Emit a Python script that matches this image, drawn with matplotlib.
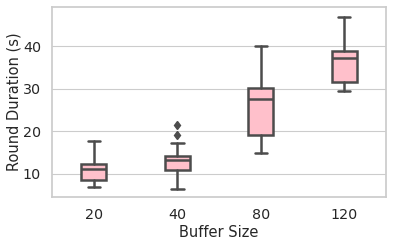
import matplotlib
matplotlib.use('Agg')
import matplotlib.pyplot as plt
import seaborn as sns

# Box statistics
buffer_sizes = ['20', '40', '80', '120']
whisker_low = [6.8, 6.5, 14.9, 29.4]
q1 = [8.6, 10.9, 19.1, 31.6]
median = [11.2, 13.3, 27.6, 37.2]
q3 = [12.4, 14.3, 30.1, 39.0]
whisker_high = [17.7, 17.3, 40.2, 47.0]
outliers = [[], [19.1, 21.4], [], []]

sns.set_theme(style='whitegrid')
plt.rcParams['font.family'] = ['DejaVu Sans']

fig, ax = plt.subplots(figsize=(3.93, 2.46), dpi=100)

stats = []
for i, lab in enumerate(buffer_sizes):
    stats.append(dict(label=lab, whislo=whisker_low[i], q1=q1[i], med=median[i],
                      q3=q3[i], whishi=whisker_high[i], fliers=outliers[i]))

line_col = '#4c4c4c'
lw = 1.8
ax.bxp(stats, positions=range(len(buffer_sizes)), widths=0.3,
       patch_artist=True, showfliers=True,
       boxprops=dict(facecolor='pink', edgecolor=line_col, linewidth=lw),
       medianprops=dict(color=line_col, linewidth=lw),
       whiskerprops=dict(color=line_col, linewidth=lw),
       capprops=dict(color=line_col, linewidth=lw),
       capwidths=0.15,
       flierprops=dict(marker='d', markerfacecolor=line_col, markeredgecolor=line_col,
                       markersize=4.5))

ax.set_xlim(-0.5, len(buffer_sizes) - 0.5)
ax.set_ylim(4.6, 49.3)
ax.set_yticks([10, 20, 30, 40])
ax.xaxis.grid(False)
ax.yaxis.grid(True, color='#cccccc', linewidth=0.8)
ax.tick_params(labelsize=10.3, colors='#262626', pad=2)
ax.set_xlabel('Buffer Size', fontsize=10.5, color='#262626', labelpad=2)
ax.set_ylabel('Round Duration (s)', fontsize=10.5, color='#262626', labelpad=1)
for s in ax.spines.values():
    s.set_color('#cccccc')

fig.subplots_adjust(left=0.133, right=0.982, top=0.972, bottom=0.2)
fig.savefig('out.png', dpi=100)
